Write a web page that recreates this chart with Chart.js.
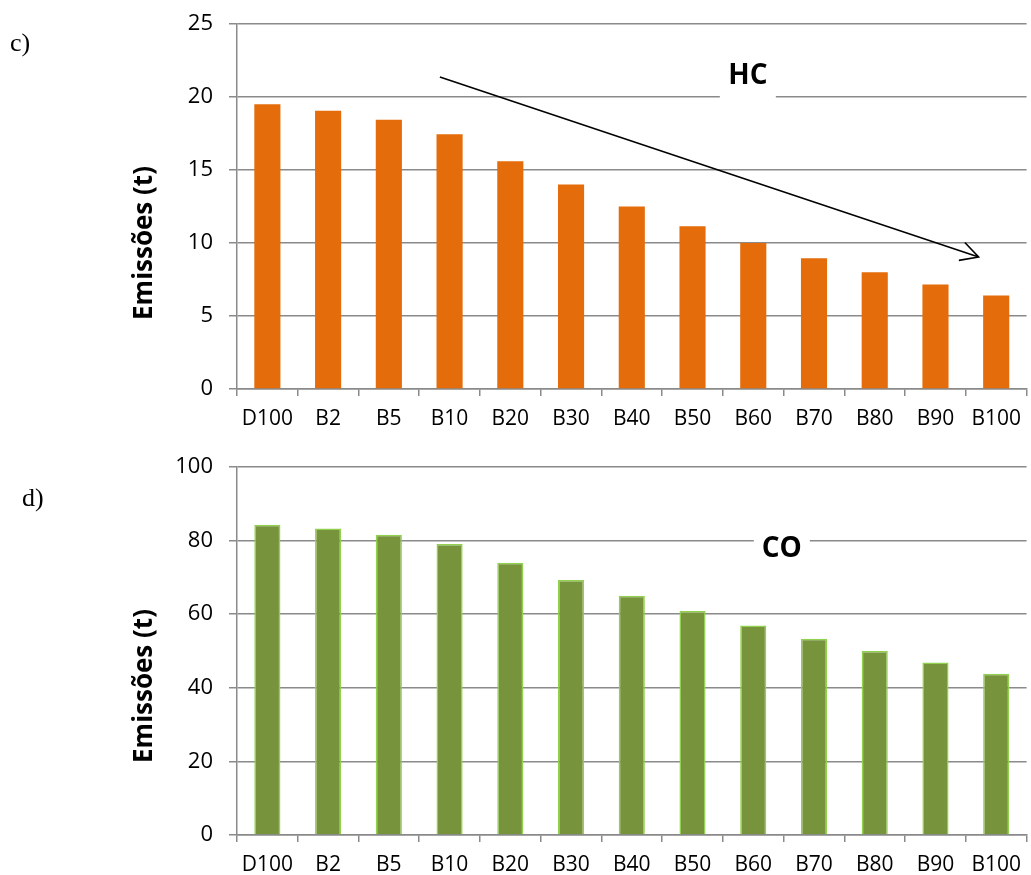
<!DOCTYPE html>
<html>
<head>
<meta charset="utf-8">
<script src="https://cdn.jsdelivr.net/npm/chart.js@4"></script>
<style>
  body { margin: 0; background: #fff; }
  .graf { position: absolute; left: 0; width: 1031px; }
</style>
</head>
<body>
<div class="graf" style="top:0;height:440px"><canvas id="graf-hc"></canvas></div>
<div class="graf" style="top:440px;height:435px"><canvas id="graf-co"></canvas></div>
<script>
var categorias = ['D100', 'B2', 'B5', 'B10', 'B20', 'B30', 'B40', 'B50', 'B60', 'B70', 'B80', 'B90', 'B100'];
var emissoesHC = [19.5, 19.05, 18.45, 17.45, 15.6, 14.0, 12.5, 11.15, 10.0, 8.95, 8.0, 7.15, 6.4];
var emissoesCO = [84.3, 83.3, 81.6, 79.1, 74.0, 69.3, 65.0, 60.9, 56.9, 53.3, 50.0, 46.9, 43.8];
var eixoHC = { max: 25, passo: 5 };
var eixoCO = { max: 100, passo: 20 };

var cinza = '#8a8a8a';

// textos e seta desenhados por cima do grafico
var anotacoes = {
  id: 'anotacoes',
  afterDraw: function (chart, args, o) {
    var ctx = chart.ctx;
    var a = chart.chartArea;
    ctx.save();
    ctx.fillStyle = '#000';

    ctx.font = '26px "Liberation Serif"';
    ctx.textAlign = 'left';
    ctx.textBaseline = 'alphabetic';
    ctx.fillText(o.letra, o.letraX, o.letraY);

    // caixa branca com o nome do poluente
    var cx = a.left + (a.right - a.left) * o.nomeX;
    var cy = a.top + o.nomeY;
    ctx.fillStyle = '#fff';
    ctx.fillRect(cx - 28, cy - 18, 56, 42);
    ctx.fillStyle = '#000';
    ctx.font = 'bold 28px "Open Sans"';
    ctx.textAlign = 'center';
    ctx.textBaseline = 'middle';
    ctx.fillText(o.nome, cx, cy);

    // titulo do eixo y
    ctx.save();
    ctx.translate(145, a.top + 219);
    ctx.rotate(-Math.PI / 2);
    ctx.font = 'bold 26px "Open Sans"';
    ctx.fillText('Emissões (t)', 0, 0);
    ctx.restore();

    if (o.seta) {
      var x = chart.scales.x, y = chart.scales.y;
      var x0 = x.getPixelForValue(o.seta[0]), y0 = y.getPixelForValue(o.seta[1]);
      var x1 = x.getPixelForValue(o.seta[2]), y1 = y.getPixelForValue(o.seta[3]);
      var ang = Math.atan2(y1 - y0, x1 - x0);
      ctx.strokeStyle = '#000';
      ctx.lineWidth = 1.6;
      ctx.beginPath();
      ctx.moveTo(x0, y0);
      ctx.lineTo(x1, y1);
      ctx.moveTo(x1 - 20 * Math.cos(ang - 0.49), y1 - 20 * Math.sin(ang - 0.49));
      ctx.lineTo(x1, y1);
      ctx.lineTo(x1 - 20 * Math.cos(ang + 0.49), y1 - 20 * Math.sin(ang + 0.49));
      ctx.stroke();
    }
    ctx.restore();
  }
};

function gerarGrafico(id, valores, eixo, cor, borda, topo, base, anot) {
  return new Chart(document.getElementById(id), {
    type: 'bar',
    data: {
      labels: categorias,
      datasets: [{
        data: valores,
        backgroundColor: cor,
        borderColor: borda,
        borderWidth: borda ? 1.5 : 0,
        barPercentage: 0.43,
        categoryPercentage: 1
      }]
    },
    plugins: [anotacoes],
    options: {
      responsive: true,
      maintainAspectRatio: false,
      animation: false,
      layout: { padding: { top: topo, right: 0, bottom: 0, left: 0 } },
      plugins: {
        legend: { display: false },
        tooltip: { enabled: false },
        anotacoes: anot
      },
      scales: {
        x: {
          offset: true,
          grid: { offset: true, drawOnChartArea: false, color: cinza, lineWidth: 1.5, tickLength: 7 },
          border: { color: cinza, width: 1.5 },
          ticks: { color: '#000', padding: 10, maxRotation: 0, autoSkip: false, font: { family: 'Open Sans', size: 21 } },
          afterFit: function (s) { s.height = base; }
        },
        y: {
          min: 0,
          max: eixo.max,
          grid: { color: cinza, lineWidth: 1.5, tickLength: 8 },
          border: { color: cinza, width: 1.5 },
          ticks: { stepSize: eixo.passo, color: '#000', padding: 16, font: { family: 'Open Sans', size: 22 } },
          afterFit: function (s) { s.width = 237; s.paddingTop = 0; s.paddingBottom = 0; }
        }
      }
    }
  });
}

gerarGrafico('graf-hc', emissoesHC, eixoHC, '#e46c0a', null, 24, 51,
  { letra: 'c)', letraX: 10, letraY: 51, nome: 'HC', nomeX: 0.647, nomeY: 52, seta: [2.84, 21.37, 11.71, 9.04] });

gerarGrafico('graf-co', emissoesCO, eixoCO, '#77933c', '#92d050', 27, 40,
  { letra: 'd)', letraX: 22, letraY: 66, nome: 'CO', nomeX: 0.69, nomeY: 82, seta: null });
</script>
</body>
</html>
